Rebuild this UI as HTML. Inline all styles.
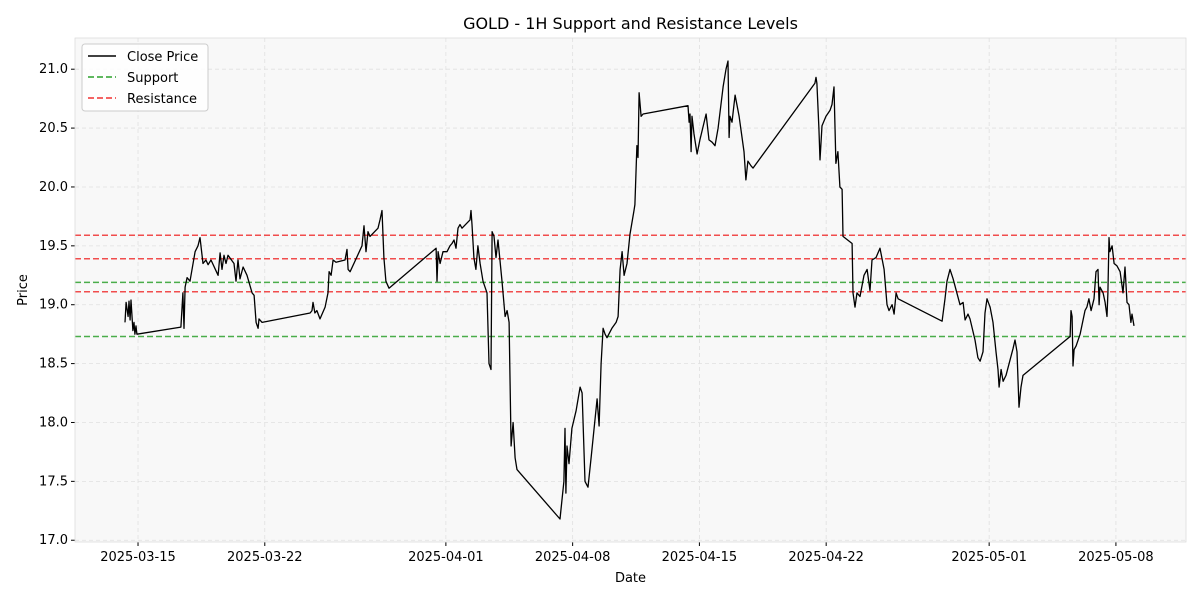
<!DOCTYPE html>
<html><head><meta charset="utf-8"><style>
body{margin:0;background:#fff;font-family:"Liberation Sans","DejaVu Sans",sans-serif;}
svg text{font-family:"DejaVu Sans","Liberation Sans",sans-serif;}
</style></head><body>
<svg id="chart" width="1200" height="600" xmlns="http://www.w3.org/2000/svg"></svg>
<script>
const days=[-0.72,-0.66,-0.55,-0.50,-0.44,-0.39,-0.28,-0.22,-0.17,-0.11,-0.06,
2.37,2.48,2.54,2.60,2.71,2.87,3.15,3.31,3.42,3.59,3.75,3.87,4.03,4.42,4.53,4.64,4.75,4.86,4.97,5.30,5.41,5.52,5.63,5.80,6.02,6.30,6.41,6.52,6.63,6.68,6.85,
9.50,9.61,9.66,9.77,9.88,10.05,10.33,10.49,10.55,10.66,10.77,10.93,11.43,11.54,11.60,11.71,11.98,12.37,12.48,12.59,12.70,12.81,13.25,13.36,13.47,13.58,13.69,13.86,
16.46,16.51,16.57,16.68,16.84,17.06,17.23,17.34,17.45,17.56,17.67,17.78,17.89,18.33,18.39,18.44,18.55,18.66,18.77,18.89,19.05,19.27,19.38,19.49,19.55,19.66,19.77,19.88,20.10,20.27,20.38,20.49,20.60,20.71,20.82,20.93,
23.30,23.52,23.58,23.63,23.69,23.80,23.96,24.19,24.30,24.41,24.52,24.68,24.85,25.02,25.35,25.46,25.57,25.68,25.79,25.90,26.17,26.40,26.51,26.62,26.73,26.84,27.00,27.17,27.39,27.44,27.55,27.61,27.67,27.78,27.89,
30.37,30.43,30.48,30.54,30.59,30.70,30.87,31.03,31.37,31.53,31.70,31.86,32.03,32.31,32.47,32.58,32.64,32.69,32.80,32.97,33.19,33.46,33.57,33.68,33.85,33.96,
37.38,37.44,37.49,37.60,37.66,37.77,37.99,38.21,38.32,38.43,38.54,38.65,38.76,38.88,38.93,39.43,39.48,39.59,39.70,39.87,40.09,40.26,40.42,40.53,40.75,40.97,41.20,41.36,41.47,41.64,41.75,41.86,41.97,
44.40,44.56,44.67,44.84,45.01,45.39,45.56,45.67,45.83,45.94,46.22,46.38,46.50,46.66,46.77,46.88,47.05,47.21,47.38,47.49,47.55,47.66,47.77,47.93,48.10,48.32,48.43,48.54,48.65,48.76,48.87,
51.47,51.52,51.58,51.63,51.69,51.80,52.02,52.29,52.40,52.51,52.63,52.79,52.90,53.01,53.07,53.12,53.29,53.40,53.51,53.56,53.62,53.67,53.79,53.90,54.06,54.23,54.39,54.50,54.61,54.72,54.83,54.89,55.00];
const prices=[18.85,19.02,18.9,19.03,18.87,19.04,18.78,18.85,18.75,18.82,18.75,
18.81,19.1,18.8,19.15,19.23,19.2,19.45,19.5,19.57,19.35,19.38,19.34,19.38,19.25,19.44,19.3,19.42,19.35,19.42,19.35,19.2,19.38,19.22,19.32,19.25,19.1,19.08,18.85,18.8,18.88,18.85,
18.93,18.95,19.02,18.93,18.95,18.88,18.98,19.1,19.28,19.25,19.38,19.36,19.38,19.47,19.3,19.28,19.37,19.5,19.67,19.45,19.62,19.58,19.65,19.72,19.8,19.4,19.2,19.14,
19.48,19.2,19.45,19.35,19.45,19.45,19.5,19.52,19.55,19.48,19.65,19.68,19.65,19.72,19.8,19.68,19.4,19.3,19.5,19.35,19.2,19.1,18.5,18.45,19.62,19.58,19.4,19.55,19.2,18.9,18.95,18.85,17.8,18.0,17.7,17.6,
17.18,17.5,17.95,17.4,17.8,17.65,17.95,18.1,18.2,18.3,18.25,17.5,17.45,17.7,18.2,17.97,18.5,18.8,18.75,18.72,18.8,18.85,18.9,19.3,19.45,19.25,19.35,19.6,19.8,19.85,20.35,20.25,20.8,20.6,20.62,
20.69,20.55,20.62,20.3,20.6,20.45,20.28,20.4,20.62,20.4,20.38,20.35,20.5,20.85,21.0,21.07,20.42,20.6,20.55,20.78,20.6,20.3,20.06,20.22,20.18,20.16,
20.88,20.93,20.88,20.5,20.23,20.52,20.6,20.65,20.7,20.85,20.2,20.3,20.0,19.98,19.58,19.52,19.1,18.98,19.1,19.07,19.25,19.3,19.12,19.38,19.4,19.48,19.3,19.0,18.95,19.0,18.92,19.1,19.05,
18.86,19.05,19.2,19.3,19.22,19.0,19.02,18.87,18.92,18.88,18.7,18.55,18.52,18.6,18.93,19.05,18.98,18.85,18.6,18.45,18.3,18.45,18.35,18.4,18.5,18.63,18.7,18.6,18.13,18.3,18.4,
18.73,18.95,18.9,18.48,18.62,18.65,18.75,18.95,18.98,19.05,18.95,19.05,19.28,19.3,19.0,19.15,19.1,19.02,18.9,19.1,19.57,19.45,19.5,19.35,19.33,19.28,19.1,19.32,19.02,19.0,18.85,18.92,18.82];
const supportLevels=[19.19,18.73];
const resistanceLevels=[19.59,19.39,19.11];
const yTicks=[17.0,17.5,18.0,18.5,19.0,19.5,20.0,20.5,21.0];
const xTickDays=[0,7,17,24,31,38,47,54];
const xTickLabels=["2025-03-15","2025-03-22","2025-04-01","2025-04-08","2025-04-15","2025-04-22","2025-05-01","2025-05-08"];

const L=75,R=1186,T=38,B=542;
const xMin=-3.48,xMax=57.87,yMin=16.985,yMax=21.265;
const sx=d=>L+(d-xMin)/(xMax-xMin)*(R-L);
const sy=v=>B-(v-yMin)/(yMax-yMin)*(B-T);
const svg=document.getElementById('chart');
const NS='http://www.w3.org/2000/svg';
function mk(tag,attrs,parent){const e=document.createElementNS(NS,tag);for(const k in attrs)e.setAttribute(k,attrs[k]);(parent||svg).appendChild(e);return e;}

const bg=mk('rect',{x:L,y:T,width:R-L,height:B-T,fill:'#f8f8f8'});



yTicks.forEach(v=>{
  const y=sy(v);
  const g=mk('line',{x1:L,x2:R,y1:y,y2:y,stroke:'#e0e0e0','stroke-dasharray':'4,3','stroke-width':0.8});
  
  
  mk('line',{x1:L-4,x2:L,y1:y,y2:y,stroke:'#000'});
  const t=mk('text',{x:L-7,y:y+4,'text-anchor':'end','font-size':13,fill:'#000'});
  t.textContent=v.toFixed(1);
  
  
});
xTickDays.forEach((d,i)=>{
  const x=sx(d);
  const g=mk('line',{x1:x,x2:x,y1:T,y2:B,stroke:'#e0e0e0','stroke-dasharray':'4,3','stroke-width':0.8});
  
  
  mk('line',{x1:x,x2:x,y1:B,y2:B+4,stroke:'#000'});
  const t=mk('text',{x:x,y:B+19,'text-anchor':'middle','font-size':13,fill:'#000'});
  t.textContent=xTickLabels[i];
  
  
});

supportLevels.forEach(v=>{
  const l=mk('line',{x1:L,x2:R,y1:sy(v),y2:sy(v),stroke:'#2ca02c','stroke-width':1.5,'stroke-dasharray':'6,3',opacity:0.85});
  
  
});
resistanceLevels.forEach(v=>{
  const l=mk('line',{x1:L,x2:R,y1:sy(v),y2:sy(v),stroke:'#f03030','stroke-width':1.5,'stroke-dasharray':'6,3',opacity:0.85});
  
  
});

const pts=days.map((d,i)=>sx(d).toFixed(1)+','+sy(prices[i]).toFixed(1)).join(' ');
const pl=mk('polyline',{points:pts,fill:'none',stroke:'#000','stroke-width':1.3,'stroke-linejoin':'round'});



const frame=mk('rect',{x:L,y:T,width:R-L,height:B-T,fill:'none',stroke:'#ddd','stroke-width':0.8});



const title=mk('text',{x:(L+R)/2,y:29,'text-anchor':'middle','font-size':16,fill:'#000'});
title.textContent='GOLD - 1H Support and Resistance Levels';


const xl=mk('text',{x:(L+R)/2,y:582,'text-anchor':'middle','font-size':13,fill:'#000'});
xl.textContent='Date';


const yl=mk('text',{x:0,y:0,'text-anchor':'middle','font-size':13,fill:'#000',transform:'translate(27,290) rotate(-90)'});
yl.textContent='Price';



const lg=mk('g',{});


mk('rect',{x:82,y:44,width:126,height:67,rx:3,fill:'#fff','fill-opacity':0.85,stroke:'#ccc'},lg);
const entries=[['Close Price','#000',null],['Support','#2ca02c','6,3'],['Resistance','#f03030','6,3']];
entries.forEach((e,i)=>{
  const y=56+i*21;
  const a={x1:88,x2:116,y1:y,y2:y,stroke:e[1],'stroke-width':1.5};
  if(e[2])a['stroke-dasharray']=e[2];
  mk('line',a,lg);
  const t=mk('text',{x:127,y:y+5,'font-size':13,fill:'#000'},lg);
  t.textContent=e[0];
  
  
});
</script>
</body></html>
